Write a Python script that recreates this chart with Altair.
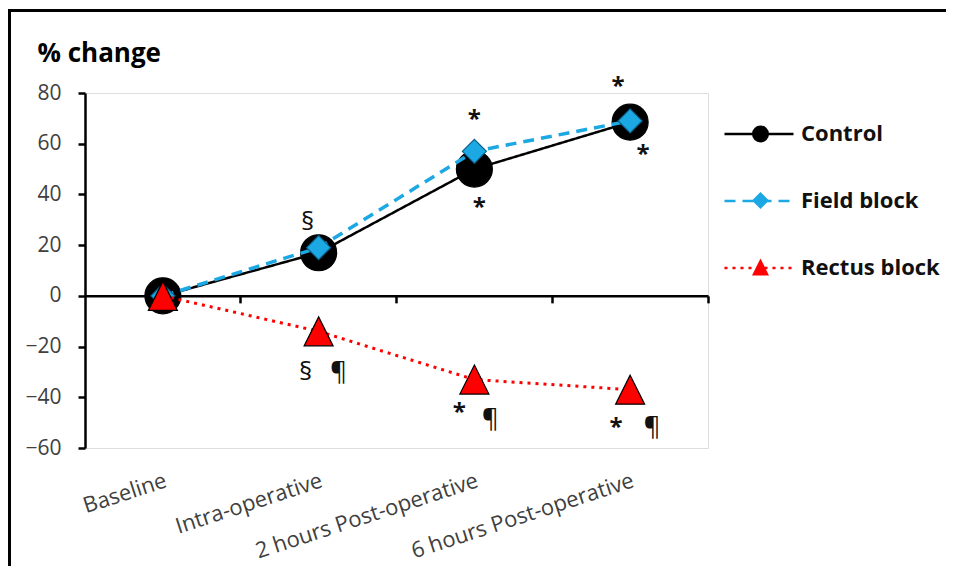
import altair as alt
import pandas as pd

# ---------------- data ----------------
categories = ["Baseline", "Intra-operative", "2 hours Post-operative", "6 hours Post-operative"]
series_names = ["Control", "Field block", "Rectus block"]
control = [0, 17, 50, 68.5]
field_block = [0, 19, 57, 69]
rectus_block = [0, -14, -33, -37]
y_ticks = [-60, -40, -20, 0, 20, 40, 60, 80]

# significance marks: category, series they belong to, symbol
ann_category = ["Intra-operative", "Intra-operative", "Intra-operative",
                "2 hours Post-operative", "2 hours Post-operative", "2 hours Post-operative", "2 hours Post-operative",
                "6 hours Post-operative", "6 hours Post-operative", "6 hours Post-operative", "6 hours Post-operative"]
ann_series = ["Field block", "Rectus block", "Rectus block",
              "Field block", "Control", "Rectus block", "Rectus block",
              "Field block", "Field block", "Rectus block", "Rectus block"]
ann_text = ["§", "§", "¶",
            "*", "*", "*", "¶",
            "*", "*", "*", "¶"]

# ---------------- styles ----------------
ann_offsets = [(-11, -26), (-13, 41), (20, 41),
               (0, -31), (5, 39), (-15, 33), (16, 39),
               (-12, -34), (13, 34), (-14, 38), (22, 37)]
line_colors = ["black", "#1CA8E3", "#FF0000"]
line_dashes = [[1, 0], [11, 7], [3, 5]]
line_widths = [2.5, 3.5, 3]
fill_colors = ["black", "#1CA8E3", "#FF0000"]
point_strokes = ["black", "#0B5F8A", "black"]
point_shapes = ["circle", "diamond", "M0,-1L1,1L-1,1Z"]
point_sizes = [1296, 576, 841]

FONT = "Open Sans"
W, H = 623, 355
PAD = {"left": 77, "top": 85, "right": 240, "bottom": 118}

rows = []
for s, vals in zip(series_names, [control, field_block, rectus_block]):
    for c, v in zip(categories, vals):
        rows.append({"category": c, "series": s, "marker": s + " ", "value": v})
df = pd.DataFrame(rows)
marker_names = [s + " " for s in series_names]

x_scale = alt.Scale(domain=categories, type="band", paddingInner=0, paddingOuter=0)
y_enc = alt.Y(
    "value:Q",
    scale=alt.Scale(domain=[-60, 80], nice=False, zero=False),
    axis=alt.Axis(
        values=y_ticks, title="% change", titleAngle=0, titleAlign="left",
        titleBaseline="alphabetic", titleX=-48, titleY=-32, titleFontSize=26,
        titleFontWeight="bold", titleFont=FONT, titleColor="black",
        labelFont=FONT, labelFontSize=21, labelColor="#404040", labelPadding=17,
        tickSize=7, tickWidth=2.5, tickColor="black", domainColor="black",
        domainWidth=2.5, grid=False,
    ),
)

axis_domain = alt.Axis(
    orient="bottom", offset=-(H * 60 / 140), labels=False, ticks=True, tickSize=7,
    tickWidth=2.5, tickColor="black", domain=True, domainColor="black",
    domainWidth=2.5, bandPosition=1, title=None, grid=False,
)
axis_labels = alt.Axis(
    orient="bottom", domain=False, ticks=False, tickSize=0, labelAngle=-18,
    labelAlign="right", labelBaseline="top", labelPadding=22, labelFontSize=22,
    labelFont=FONT, labelColor="#404040", labelLimit=400, labelOverlap=False,
    title=None, grid=False,
)

line_legend = alt.Legend(
    title=None, orient="none", legendX=638, legendY=5, symbolType="stroke",
    symbolSize=4761, symbolStrokeWidth=2.5, labelFont=FONT, labelFontSize=22,
    labelFontWeight="bold", labelColor="#111111", labelOffset=6, rowPadding=20,
    padding=0,
)
# marker-only legend drawn on top of the line legend (its labels are blank)
point_legend = alt.Legend(
    title=None, orient="none", legendX=664.5, legendY=30, symbolSize=289,
    symbolStrokeColor="black", symbolStrokeWidth=1, symbolOpacity=1,
    labelFont=FONT, labelFontSize=22, labelFontWeight="bold", labelOpacity=0,
    labelExpr="' '", labelOffset=6, rowPadding=44.5, padding=0,
)

base = alt.Chart(df)
layers = []

frame_df = pd.DataFrame({"k": [0]})
frame_left = alt.Chart(frame_df).mark_rule(color="black", strokeWidth=3).encode(
    x=alt.value(-75.5), y=alt.value(-82.5), y2=alt.value(H + PAD["bottom"])
)
frame_top = alt.Chart(frame_df).mark_rule(color="black", strokeWidth=3).encode(
    x=alt.value(-77), x2=alt.value(W + PAD["right"] - 2), y=alt.value(-82.5)
)
layers += [frame_left, frame_top]

for i, s in enumerate(series_names):
    sub = base.transform_filter(alt.datum.series == s)
    line = sub.mark_line(strokeWidth=line_widths[i]).encode(
        x=alt.X("category:N", sort=categories, scale=x_scale,
                axis=axis_domain if i == 0 else None),
        y=y_enc,
        color=alt.Color("series:N", scale=alt.Scale(domain=series_names, range=line_colors),
                        legend=line_legend),
        strokeDash=alt.StrokeDash("series:N", scale=alt.Scale(domain=series_names, range=line_dashes),
                                  legend=line_legend),
    )
    pts = sub.mark_point(
        filled=True, opacity=1, stroke=point_strokes[i], strokeWidth=1.2, size=point_sizes[i]
    ).encode(
        x=alt.X("category:N", sort=categories, scale=x_scale,
                axis=axis_labels if i == 0 else None),
        y=y_enc,
        fill=alt.Fill("marker:N", scale=alt.Scale(domain=marker_names, range=fill_colors),
                      legend=point_legend),
        shape=alt.Shape("marker:N", scale=alt.Scale(domain=marker_names, range=point_shapes),
                        legend=point_legend),
    )
    layers += [line, pts]

lookup = {(r["category"], r["series"]): r["value"] for r in rows}
for c, s, t, (dx, dy) in zip(ann_category, ann_series, ann_text, ann_offsets):
    adf = pd.DataFrame({"category": [c], "value": [lookup[(c, s)]], "label": [t]})
    is_star = t == "*"
    txt = alt.Chart(adf).mark_text(
        dx=dx, dy=dy, fontSize=24 if is_star else 26, font=FONT,
        fontWeight="bold" if is_star else "normal", color="#111111",
        align="center", baseline="middle"
    ).encode(
        x=alt.X("category:N", sort=categories, scale=x_scale, axis=None),
        y=y_enc,
        text="label:N",
    )
    layers.append(txt)

chart = alt.layer(*layers).resolve_axis(x="independent").properties(
    width=W, height=H, padding=PAD,
    autosize=alt.AutoSizeParams(type="none"),
).configure_view(strokeWidth=0).configure(background="white")

chart.save("out.html", embed_options={"renderer": "svg", "actions": False})
